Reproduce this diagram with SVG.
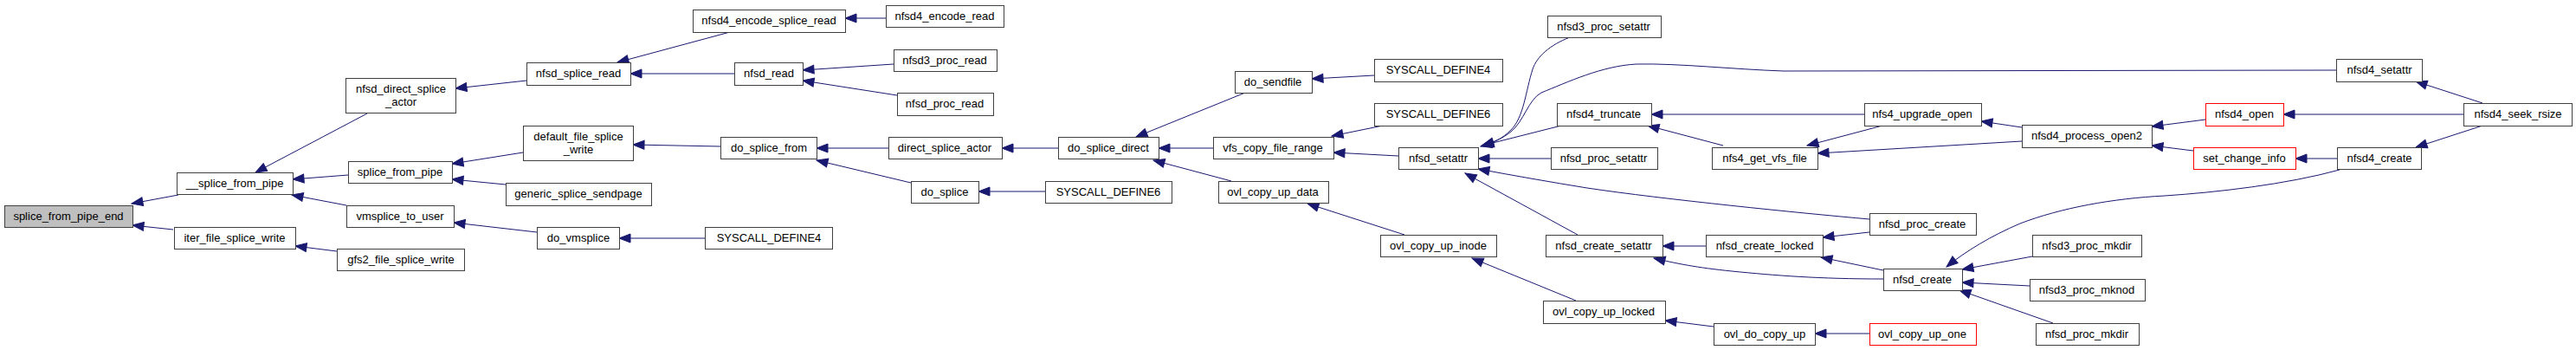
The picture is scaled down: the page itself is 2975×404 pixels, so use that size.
<svg xmlns="http://www.w3.org/2000/svg" width="2975" height="404" viewBox="0 0 2975 404">
<style>
.n rect{fill:#fff;stroke:#404040;stroke-width:1}
.n.root rect{fill:#bfbfbf}
.n.red rect{stroke:#ff0000}
text{font-family:"Liberation Sans",Arial,Helvetica,sans-serif;font-size:13px;text-anchor:middle;fill:#000}
#edges path{fill:none;stroke:#191970;stroke-width:1;marker-end:url(#a)}
</style>
<defs>
<marker id="a" markerUnits="userSpaceOnUse" markerWidth="16" markerHeight="14" viewBox="-1 -7 16 14" refX="13" refY="0" orient="auto">
<path d="M0,-5 L13,0 L0,5 z" fill="#191970" stroke="#191970" stroke-width="1"/>
</marker>
</defs>
<rect width="2975" height="404" fill="#fff"/>
<g id="edges">
<path d="M206,225 L152,235"/>
<path d="M200,265 L153,260"/>
<path d="M424,131 L295,199"/>
<path d="M402,202 L338,207"/>
<path d="M400,237 L337,225"/>
<path d="M389,290 L341,284"/>
<path d="M608,93 L526,102"/>
<path d="M843,37 L713,72"/>
<path d="M848,85 L728,85"/>
<path d="M1023,21 L976,21"/>
<path d="M1032,74 L927,81"/>
<path d="M1036,110 L927,93"/>
<path d="M604,176 L522,189"/>
<path d="M584,213 L522,207"/>
<path d="M832,169 L731,167"/>
<path d="M1026,171 L943,171"/>
<path d="M1052,211 L943,185"/>
<path d="M620,268 L524,257"/>
<path d="M814,275 L715,275"/>
<path d="M1222,171 L1157,171"/>
<path d="M1207,221 L1130,221"/>
<path d="M1438,107 L1312,158"/>
<path d="M1401,171 L1338,171"/>
<path d="M1422,209 L1332,185"/>
<path d="M1587,87 L1515,91"/>
<path d="M1597,145 L1538,157"/>
<path d="M1615,180 L1540,176"/>
<path d="M1622,271 L1510,235"/>
<path d="M1813,43 C1790,52 1775,65 1770,80 C1762,105 1760,135 1745,150 C1735,160 1725,165 1710,169"/>
<path d="M2698,81 L2060,82 C2000,80 1940,73 1890,74 C1850,76 1810,95 1780,107 C1765,115 1760,140 1745,152 C1735,160 1725,164 1712,168"/>
<path d="M1803,145 L1712,168"/>
<path d="M1791,183 L1707,183"/>
<path d="M2159,253 C2080,246 1920,230 1833,217 C1790,210 1750,203 1707,195"/>
<path d="M1822,271 L1692,200"/>
<path d="M2153,132 L1907,132"/>
<path d="M1990,168 L1903,145"/>
<path d="M1970,284 L1920,284"/>
<path d="M2175,322 C2100,322 2050,318 2000,313 C1960,309 1935,304 1910,298"/>
<path d="M1820,347 L1700,298"/>
<path d="M1979,377 L1923,370"/>
<path d="M2335,147 L2288,140"/>
<path d="M2174,145 L2087,168"/>
<path d="M2335,163 L2099,177"/>
<path d="M2159,268 L2105,274"/>
<path d="M2175,312 L2103,297"/>
<path d="M2159,385 L2096,385"/>
<path d="M2347,296 L2266,311"/>
<path d="M2344,330 L2266,326"/>
<path d="M2371,373 L2263,335"/>
<path d="M2702,196 C2640,213 2560,222 2500,226 C2440,229 2380,240 2333,258 C2300,272 2270,290 2248,308"/>
<path d="M2547,138 L2485,146"/>
<path d="M2533,174 L2485,168"/>
<path d="M2867,119 L2790,94"/>
<path d="M2845,132 L2637,132"/>
<path d="M2867,145 L2790,170"/>
<path d="M2699,183 L2651,183"/>
</g>
<g id="splice_from_pipe_end" class="n root"><rect x="5.5" y="237.5" width="148" height="25"/><text x="79" y="254">splice_from_pipe_end</text></g>
<g id="__splice_from_pipe" class="n"><rect x="204.5" y="199.5" width="134" height="25"/><text x="271" y="216">__splice_from_pipe</text></g>
<g id="iter_file_splice_write" class="n"><rect x="201.5" y="262.5" width="140" height="25"/><text x="271" y="279">iter_file_splice_write</text></g>
<g id="nfsd_direct_splice_actor" class="n"><rect x="399.5" y="90.5" width="127" height="40"/><text x="463" y="107">nfsd_direct_splice</text><text x="463" y="122">_actor</text></g>
<g id="splice_from_pipe" class="n"><rect x="402.5" y="186.5" width="120" height="25"/><text x="462" y="203">splice_from_pipe</text></g>
<g id="vmsplice_to_user" class="n"><rect x="400.5" y="237.5" width="124" height="25"/><text x="462" y="254">vmsplice_to_user</text></g>
<g id="gfs2_file_splice_write" class="n"><rect x="389.5" y="287.5" width="147" height="25"/><text x="463" y="304">gfs2_file_splice_write</text></g>
<g id="nfsd_splice_read" class="n"><rect x="608.5" y="72.5" width="120" height="26"/><text x="668" y="89">nfsd_splice_read</text></g>
<g id="default_file_splice_write" class="n"><rect x="604.5" y="145.5" width="127" height="40"/><text x="668" y="162">default_file_splice</text><text x="668" y="177">_write</text></g>
<g id="generic_splice_sendpage" class="n"><rect x="584.5" y="211.5" width="168" height="26"/><text x="668" y="228">generic_splice_sendpage</text></g>
<g id="do_vmsplice" class="n"><rect x="620.5" y="262.5" width="95" height="25"/><text x="668" y="279">do_vmsplice</text></g>
<g id="nfsd4_encode_splice_read" class="n"><rect x="800.5" y="11.5" width="176" height="26"/><text x="888" y="28">nfsd4_encode_splice_read</text></g>
<g id="nfsd_read" class="n"><rect x="848.5" y="72.5" width="79" height="26"/><text x="888" y="89">nfsd_read</text></g>
<g id="do_splice_from" class="n"><rect x="832.5" y="158.5" width="111" height="25"/><text x="888" y="175">do_splice_from</text></g>
<g id="SYSCALL_DEFINE4_a" class="n"><rect x="814.5" y="262.5" width="147" height="25"/><text x="888" y="279">SYSCALL_DEFINE4</text></g>
<g id="nfsd4_encode_read" class="n"><rect x="1023.5" y="6.5" width="136" height="25"/><text x="1091" y="23">nfsd4_encode_read</text></g>
<g id="nfsd3_proc_read" class="n"><rect x="1032.5" y="57.5" width="119" height="25"/><text x="1091" y="74">nfsd3_proc_read</text></g>
<g id="nfsd_proc_read" class="n"><rect x="1036.5" y="107.5" width="111" height="26"/><text x="1091" y="124">nfsd_proc_read</text></g>
<g id="direct_splice_actor" class="n"><rect x="1026.5" y="158.5" width="131" height="25"/><text x="1091" y="175">direct_splice_actor</text></g>
<g id="do_splice" class="n"><rect x="1052.5" y="209.5" width="78" height="25"/><text x="1091" y="226">do_splice</text></g>
<g id="do_splice_direct" class="n"><rect x="1222.5" y="158.5" width="116" height="25"/><text x="1280" y="175">do_splice_direct</text></g>
<g id="SYSCALL_DEFINE6_a" class="n"><rect x="1207.5" y="209.5" width="146" height="25"/><text x="1280" y="226">SYSCALL_DEFINE6</text></g>
<g id="do_sendfile" class="n"><rect x="1426.5" y="82.5" width="89" height="25"/><text x="1470" y="99">do_sendfile</text></g>
<g id="vfs_copy_file_range" class="n"><rect x="1401.5" y="158.5" width="139" height="25"/><text x="1470" y="175">vfs_copy_file_range</text></g>
<g id="ovl_copy_up_data" class="n"><rect x="1407.5" y="209.5" width="127" height="25"/><text x="1470" y="226">ovl_copy_up_data</text></g>
<g id="SYSCALL_DEFINE4_b" class="n"><rect x="1587.5" y="68.5" width="148" height="26"/><text x="1661" y="85">SYSCALL_DEFINE4</text></g>
<g id="SYSCALL_DEFINE6_b" class="n"><rect x="1587.5" y="119.5" width="148" height="26"/><text x="1661" y="136">SYSCALL_DEFINE6</text></g>
<g id="nfsd_setattr" class="n"><rect x="1615.5" y="170.5" width="92" height="25"/><text x="1661" y="187">nfsd_setattr</text></g>
<g id="ovl_copy_up_inode" class="n"><rect x="1594.5" y="271.5" width="134" height="25"/><text x="1661" y="288">ovl_copy_up_inode</text></g>
<g id="nfsd3_proc_setattr" class="n"><rect x="1787.5" y="18.5" width="131" height="25"/><text x="1852" y="35">nfsd3_proc_setattr</text></g>
<g id="nfsd4_truncate" class="n"><rect x="1798.5" y="119.5" width="109" height="26"/><text x="1852" y="136">nfsd4_truncate</text></g>
<g id="nfsd_proc_setattr" class="n"><rect x="1791.5" y="170.5" width="123" height="25"/><text x="1852" y="187">nfsd_proc_setattr</text></g>
<g id="nfsd_create_setattr" class="n"><rect x="1785.5" y="271.5" width="135" height="25"/><text x="1852" y="288">nfsd_create_setattr</text></g>
<g id="ovl_copy_up_locked" class="n"><rect x="1782.5" y="347.5" width="141" height="26"/><text x="1852" y="364">ovl_copy_up_locked</text></g>
<g id="nfs4_get_vfs_file" class="n"><rect x="1977.5" y="170.5" width="122" height="25"/><text x="2038" y="187">nfs4_get_vfs_file</text></g>
<g id="nfsd_create_locked" class="n"><rect x="1970.5" y="271.5" width="135" height="25"/><text x="2038" y="288">nfsd_create_locked</text></g>
<g id="ovl_do_copy_up" class="n"><rect x="1979.5" y="373.5" width="117" height="25"/><text x="2038" y="390">ovl_do_copy_up</text></g>
<g id="nfs4_upgrade_open" class="n"><rect x="2153.5" y="119.5" width="135" height="26"/><text x="2220" y="136">nfs4_upgrade_open</text></g>
<g id="nfsd_proc_create" class="n"><rect x="2159.5" y="246.5" width="123" height="25"/><text x="2220" y="263">nfsd_proc_create</text></g>
<g id="nfsd_create" class="n"><rect x="2175.5" y="310.5" width="91" height="25"/><text x="2220" y="327">nfsd_create</text></g>
<g id="ovl_copy_up_one" class="n red"><rect x="2159.5" y="373.5" width="123" height="25"/><text x="2220" y="390">ovl_copy_up_one</text></g>
<g id="nfsd4_process_open2" class="n"><rect x="2335.5" y="144.5" width="150" height="26"/><text x="2410" y="161">nfsd4_process_open2</text></g>
<g id="nfsd3_proc_mkdir" class="n"><rect x="2347.5" y="271.5" width="126" height="25"/><text x="2410" y="288">nfsd3_proc_mkdir</text></g>
<g id="nfsd3_proc_mknod" class="n"><rect x="2344.5" y="322.5" width="133" height="25"/><text x="2410" y="339">nfsd3_proc_mknod</text></g>
<g id="nfsd_proc_mkdir" class="n"><rect x="2351.5" y="373.5" width="119" height="25"/><text x="2410" y="390">nfsd_proc_mkdir</text></g>
<g id="nfsd4_open" class="n red"><rect x="2547.5" y="119.5" width="90" height="26"/><text x="2592" y="136">nfsd4_open</text></g>
<g id="set_change_info" class="n red"><rect x="2533.5" y="170.5" width="118" height="25"/><text x="2592" y="187">set_change_info</text></g>
<g id="nfsd4_setattr" class="n"><rect x="2698.5" y="68.5" width="99" height="26"/><text x="2748" y="85">nfsd4_setattr</text></g>
<g id="nfsd4_create" class="n"><rect x="2699.5" y="170.5" width="97" height="25"/><text x="2748" y="187">nfsd4_create</text></g>
<g id="nfsd4_seek_rsize" class="n"><rect x="2845.5" y="119.5" width="125" height="26"/><text x="2908" y="136">nfsd4_seek_rsize</text></g>
</svg>
